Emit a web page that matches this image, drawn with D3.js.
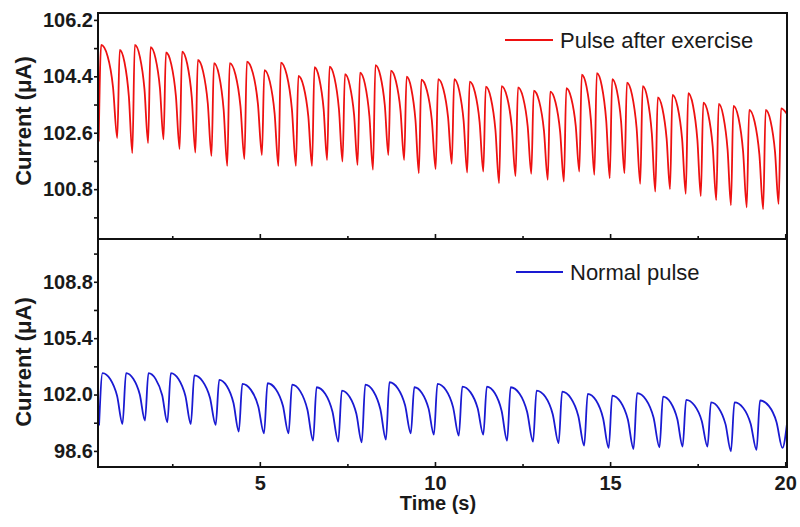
<!DOCTYPE html>
<html>
<head>
<meta charset="utf-8">
<script src="https://d3js.org/d3.v7.min.js"></script>
<style>
  body { margin: 0; background: #fff; }
  text { font-family: "Liberation Sans", Arial, sans-serif; fill: #1a1a1a; }
</style>
</head>
<body>
<svg id="vis"></svg>
<script>
    // ---- data ----
    // time (s) of each trough, then current (uA) at trough / peak / mid decay / knee before the drop
    var redLowT = [0.40, 0.93, 1.36, 1.81, 2.25, 2.71, 3.16, 3.62, 4.07, 4.56, 5.06, 5.53, 6.03, 6.49, 6.92,
        7.36, 7.79, 8.23, 8.67, 9.12, 9.54, 10.02, 10.48, 10.92, 11.38, 11.83, 12.30, 12.75, 13.22, 13.68,
        14.12, 14.55, 14.99, 15.41, 15.86, 16.29, 16.71, 17.16, 17.59, 18.03, 18.45, 18.90, 19.37, 19.81];
    var redLow = [102.32, 102.43, 101.95, 102.27, 102.39, 102.08, 101.97, 101.86, 101.54, 101.76, 101.89,
        101.54, 101.54, 101.54, 101.73, 101.68, 101.57, 101.42, 101.89, 101.73, 101.31, 101.44, 101.61,
        101.33, 101.36, 100.99, 101.22, 101.29, 101.10, 101.04, 101.36, 101.26, 101.15, 101.31, 100.97,
        100.72, 100.80, 100.65, 100.58, 100.45, 100.29, 100.22, 100.16, 100.33];
    var redHigh = [105.40, 105.24, 105.40, 105.33, 105.16, 105.19, 104.92, 104.82, 104.82, 104.87, 104.60,
        104.84, 104.41, 104.69, 104.71, 104.47, 104.52, 104.76, 104.58, 104.39, 104.29, 104.31, 104.31,
        104.23, 104.07, 104.09, 104.05, 103.94, 103.91, 104.02, 104.45, 104.50, 104.31, 104.20, 104.09,
        103.73, 103.81, 103.86, 103.56, 103.52, 103.46, 103.33, 103.33, 103.38];
    var redMid = [105.04, 104.85, 105.02, 104.98, 104.79, 104.80, 104.55, 104.43, 104.45, 104.51, 104.23,
        104.44, 104.07, 104.33, 104.35, 104.12, 104.15, 104.42, 104.24, 104.02, 103.95, 103.99, 103.95,
        103.89, 103.70, 103.75, 103.72, 103.60, 103.57, 103.70, 104.07, 104.10, 103.95, 103.81, 103.69,
        103.38, 103.43, 103.47, 103.19, 103.13, 103.07, 102.95, 102.97];
    var redKnee = [104.06, 103.76, 103.99, 104.01, 103.77, 103.74, 103.54, 103.34, 103.44, 103.53, 103.22,
        103.36, 103.12, 103.36, 103.35, 103.17, 103.12, 103.47, 103.30, 103.00, 103.01, 103.09, 102.97,
        102.94, 102.68, 102.80, 102.81, 102.66, 102.62, 102.82, 103.01, 102.99, 102.96, 102.75, 102.57,
        102.41, 102.39, 102.38, 102.16, 102.07, 102.00, 101.90, 101.98];
    var redEnd = [20.05, 103.2];

    var blueLowT = [0.41, 1.08, 1.72, 2.36, 3.03, 3.74, 4.40, 5.12, 5.82, 6.52, 7.24, 7.91, 8.60, 9.31,
        9.97, 10.68, 11.38, 12.06, 12.80, 13.53, 14.26, 14.96, 15.67, 16.41, 17.07, 17.78, 18.45, 19.18, 19.92];
    var blueLow = [100.13, 100.23, 100.43, 100.33, 100.23, 100.17, 99.77, 99.66, 99.66, 99.22, 99.16, 99.12,
        99.28, 99.66, 99.58, 99.52, 99.58, 99.22, 99.16, 99.07, 98.92, 98.78, 98.72, 98.82, 98.86, 98.86,
        98.58, 98.66, 98.78];
    var blueHigh = [103.29, 103.29, 103.29, 103.29, 103.15, 102.89, 102.64, 102.68, 102.60, 102.44, 102.24,
        102.60, 102.74, 102.44, 102.64, 102.48, 102.48, 102.44, 102.24, 102.17, 102.04, 101.94, 102.08,
        101.88, 101.68, 101.53, 101.53, 101.64];
    var blueMid = [102.92, 102.95, 102.93, 102.92, 102.79, 102.52, 102.28, 102.32, 102.19, 102.05, 101.87,
        102.20, 102.37, 102.10, 102.27, 102.13, 102.09, 102.05, 101.86, 101.78, 101.65, 101.55, 101.69,
        101.52, 101.34, 101.18, 101.19, 101.30];
    var blueKnee = [101.91, 102.00, 101.96, 101.91, 101.81, 101.49, 101.30, 101.32, 101.08, 100.96, 100.84,
        101.11, 101.35, 101.15, 101.24, 101.17, 101.01, 100.96, 100.81, 100.71, 100.57, 100.49, 100.61,
        100.52, 100.41, 100.20, 100.24, 100.35];
    var blueEnd = [20.05, 100.25];

    var xTicks = [5, 10, 15, 20];
    var xMinor = [2.5, 7.5, 12.5, 17.5];
    var topTicks = [100.8, 102.6, 104.4, 106.2];
    var topMinor = [99.9, 101.7, 103.5, 105.3];
    var botTicks = [98.6, 102.0, 105.4, 108.8];
    var botMinor = [100.3, 103.7, 107.1, 110.5];

    var redLabel = "Pulse after exercise";
    var blueLabel = "Normal pulse";

    // ---- layout ----
    var W = 800, H = 527;
    var left = 98, right = 787;
    var topPanel = {y0: 13, y1: 239}, botPanel = {y0: 239, y1: 467};

    var svg = d3.select("#vis").attr("width", W).attr("height", H);

    var x = d3.scaleLinear().domain([0.38, 20.05]).range([left, right]);
    var yTop = d3.scaleLinear().domain([99.21, 106.42]).range([topPanel.y1, topPanel.y0]);
    var yBot = d3.scaleLinear().domain([97.63, 111.38]).range([botPanel.y1, botPanel.y0]);

    //Turn trough/peak readings into the points of the trace
    function tracePoints(lowT, low, high, mid, knee, lag, end) {
        var pts = [];
        for (var i = 0; i < lowT.length; i++) {
            var t0 = lowT[i];
            var t1 = i + 1 < lowT.length ? lowT[i + 1] : end[0];
            pts.push([t0, low[i]]);
            if (i < high.length) pts.push([t0 + lag, high[i]]);
            if (i < mid.length) {
                pts.push([t0 + (t1 - t0) * 0.48, mid[i]]);
                pts.push([t0 + (t1 - t0) * 0.77, knee[i]]);
            }
        }
        pts.push(end);
        return pts;
    }

    var redPts = tracePoints(redLowT, redLow, redHigh, redMid, redKnee, 0.07, redEnd);
    var bluePts = tracePoints(blueLowT, blueLow, blueHigh, blueMid, blueKnee, 0.10, blueEnd);

    svg.append("defs").append("clipPath").attr("id", "clipAll")
        .append("rect").attr("x", left).attr("y", topPanel.y0)
        .attr("width", right - left).attr("height", botPanel.y1 - topPanel.y0);

    function drawPanel(panel, y, ticks, minor, pts, color, showX) {
        var g = svg.append("g");

        // y axis, ticks outward
        g.append("g")
            .attr("transform", "translate(" + left + ",0)")
            .call(d3.axisLeft(y).tickValues(minor).tickSize(4).tickFormat(""))
            .call(function(a) { a.select(".domain").remove(); });
        g.append("g")
            .attr("transform", "translate(" + left + ",0)")
            .call(d3.axisLeft(y).tickValues(ticks).tickSize(4).tickPadding(1).tickFormat(d3.format(".1f")))
            .call(function(a) {
                a.select(".domain").remove();
                a.selectAll("text").style("font-size", "20px").style("font-weight", "bold").attr("fill", "#1a1a1a");
            });

        // x axis ticks, inward
        g.append("g")
            .attr("transform", "translate(0," + panel.y1 + ")")
            .call(d3.axisBottom(x).tickValues(xMinor).tickSize(-3).tickFormat(""))
            .call(function(a) { a.select(".domain").remove(); });
        g.append("g")
            .attr("transform", "translate(0," + panel.y1 + ")")
            .call(d3.axisBottom(x).tickValues(xTicks).tickSize(-5).tickPadding(9)
                .tickFormat(showX ? d3.format("d") : ""))
            .call(function(a) {
                a.select(".domain").remove();
                a.selectAll("text").style("font-size", "20px").style("font-weight", "bold").attr("fill", "#1a1a1a");
            });
        g.selectAll(".tick line").attr("stroke", "#111").attr("stroke-width", 1.6);

        // the trace
        g.append("path")
            .datum(pts)
            .attr("clip-path", "url(#clipAll)")
            .attr("fill", "none")
            .attr("stroke", color)
            .attr("stroke-width", 1.8)
            .attr("stroke-linejoin", "round")
            .attr("d", d3.line()
                .x(function(d) { return x(d[0]); })
                .y(function(d) { return y(d[1]); })
                .curve(d3.curveMonotoneX));

        // frame
        g.append("rect")
            .attr("x", left).attr("y", panel.y0)
            .attr("width", right - left).attr("height", panel.y1 - panel.y0)
            .attr("fill", "none").attr("stroke", "#111").attr("stroke-width", 2);
        return g;
    }

    var gTop = drawPanel(topPanel, yTop, topTicks, topMinor, redPts, "#ee1111", false);
    var gBot = drawPanel(botPanel, yBot, botTicks, botMinor, bluePts, "#1a1ad2", true);

    //Legends
    gTop.append("line").attr("x1", 505).attr("x2", 553).attr("y1", 40).attr("y2", 40)
        .attr("stroke", "#ee1111").attr("stroke-width", 2);
    gTop.append("text").attr("x", 560).attr("y", 40).attr("dy", "0.36em")
        .style("font-size", "22px").text(redLabel);

    gBot.append("line").attr("x1", 516).attr("x2", 563).attr("y1", 272).attr("y2", 272)
        .attr("stroke", "#1a1ad2").attr("stroke-width", 2);
    gBot.append("text").attr("x", 570).attr("y", 272).attr("dy", "0.36em")
        .style("font-size", "22px").text(blueLabel);

    //Axis titles
    svg.append("text")
        .attr("transform", "translate(31,121) rotate(-90)")
        .attr("text-anchor", "middle")
        .style("font-size", "22px").style("font-weight", "bold")
        .text("Current (\u03bcA)");
    svg.append("text")
        .attr("transform", "translate(31,362) rotate(-90)")
        .attr("text-anchor", "middle")
        .style("font-size", "22px").style("font-weight", "bold")
        .text("Current (\u03bcA)");
    svg.append("text")
        .attr("x", 438).attr("y", 510)
        .attr("text-anchor", "middle")
        .style("font-size", "20px").style("font-weight", "bold")
        .text("Time (s)");
</script>
</body>
</html>
